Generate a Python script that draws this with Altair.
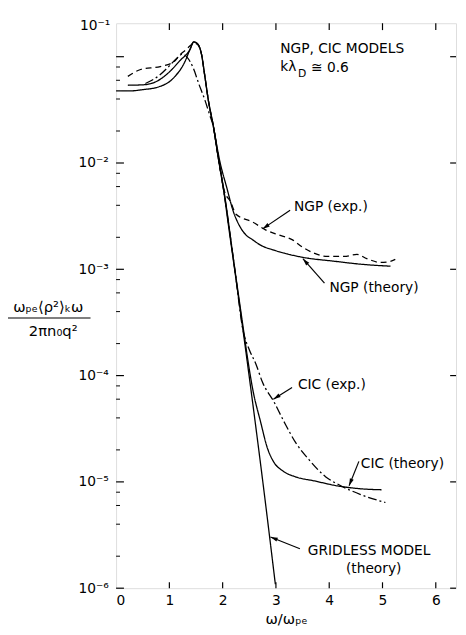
import altair as alt
import pandas as pd

# ---------------- data ----------------
# omega/omega_pe  and  spectrum value
gridless_x = [0.0, 0.277, 0.498, 0.775, 1.089, 1.292, 1.384, 1.458, 1.531, 1.605, 1.661, 1.734,
              1.827, 1.919, 2.030, 2.103, 2.214, 2.380, 2.528, 2.768, 2.989]
gridless_y = [0.0477, 0.0477, 0.0490, 0.0516, 0.0639, 0.0899, 0.1161, 0.1377, 0.1318, 0.1044, 0.0681, 0.0383,
              0.0220, 0.01112, 0.00506, 0.00272, 0.00109, 2.72e-4, 7.58e-5, 8.8e-6, 1.09e-6]

ngp_th_x = [0.221, 0.529, 0.775, 1.015, 1.200, 1.384, 1.458, 1.531, 1.605, 1.661, 1.734, 1.827,
            1.943, 2.080, 2.200, 2.312, 2.435, 2.560, 2.700, 2.990, 3.490, 4.100, 4.650, 5.150]
ngp_th_y = [0.0539, 0.0545, 0.0591, 0.0731, 0.0920, 0.1161, 0.1377, 0.1318, 0.1044, 0.0681, 0.0383, 0.0220,
            0.0106, 0.00580, 0.00350, 0.00259, 0.00211, 0.00190, 0.00170, 0.00150, 0.00130, 0.00119, 0.00111, 0.00107]

cic_th_x = [1.827, 1.919, 2.035, 2.218, 2.390, 2.472, 2.565, 2.712, 2.841, 2.952, 3.137, 3.358,
            3.727, 4.151, 4.594, 4.982]
cic_th_y = [0.0220, 0.0112, 0.00506, 0.00109, 2.72e-4, 1.41e-4, 7.41e-5, 3.67e-5, 2.07e-5, 1.56e-5, 1.26e-5, 1.12e-5,
            1.02e-5, 9.18e-6, 8.61e-6, 8.43e-6]

ngp_exp_x = [0.221, 0.461, 0.830, 1.089, 1.200, 1.300, 1.400, 1.458, 1.531, 1.605, 1.661, 1.734, 1.827,
             1.919, 2.030, 2.150, 2.251, 2.565, 2.804, 3.044, 3.303, 3.487, 3.727, 3.967, 4.280, 4.520,
             4.705, 4.963, 5.148, 5.240]
ngp_exp_y = [0.0653, 0.0758, 0.0808, 0.0900, 0.1044, 0.1150, 0.1280, 0.1350, 0.1300, 0.1044, 0.0681, 0.0383, 0.0220,
             0.0111, 0.0055, 0.0043, 0.00330, 0.00278, 0.00235, 0.00211, 0.00190, 0.00163, 0.00141, 0.00132, 0.00132, 0.00138,
             0.00126, 0.00116, 0.00119, 0.00124]

cic_exp_x = [0.55, 0.80, 1.00, 1.15, 1.25, 1.33, 1.45, 1.55, 1.66, 1.75, 1.83, 1.92, 2.03, 2.22, 2.38,
             2.50, 2.62, 2.75, 2.96, 3.15, 3.38, 3.62, 3.93, 4.20, 4.59, 5.055]
cic_exp_y = [0.0560, 0.0660, 0.0820, 0.0980, 0.1060, 0.0990, 0.0780, 0.0560, 0.0400, 0.0290, 0.0215, 0.0112, 0.0051, 0.00108, 2.7e-4,
             1.75e-4, 1.30e-4, 8.6e-5, 5.7e-5, 3.7e-5, 2.3e-5, 1.62e-5, 1.12e-5, 9.3e-6, 7.6e-6, 6.4e-6]

series_names = ["gridless", "ngp_th", "cic_th", "ngp_exp", "cic_exp"]
series_dash = [[1, 0], [1, 0], [1, 0], [6, 4], [9, 3, 2, 3]]

# axis ticks / labels
x_ticks = [0, 1, 2, 3, 4, 5, 6]
y_major = [1e-6, 1e-5, 1e-4, 1e-3, 1e-2, 1e-1]
y_minor = [m * d for d in [1e-6, 1e-5, 1e-4, 1e-3, 1e-2] for m in (2, 4, 6, 8)]
y_label_vals = [1e-6, 1e-5, 1e-4, 1e-3, 1e-2]
y_label_txt = ["10⁻⁶", "10⁻⁵", "10⁻⁴", "10⁻³", "10⁻²"]
top_label = "10⁻¹"

# annotations
ann_text = ["NGP,  CIC  MODELS", "kλ", "≅ 0.6", "NGP (exp.)", "NGP (theory)", "CIC (exp.)",
            "CIC (theory)", "GRIDLESS MODEL"]
ann_x = [3.08, 3.081, 3.66, 3.339, 4.004, 3.413, 4.594, 3.598]
ann_y = [0.1173, 0.0791, 0.0774, 0.00383, 6.6e-4, 8.07e-5, 1.47e-5, 2.25e-6]

arr_x = [3.266, 3.911, 3.303, 4.557, 3.45]
arr_y = [0.00360, 7.42e-4, 7.74e-5, 1.56e-5, 2.35e-6]
tip_x = [2.749, 3.506, 2.952, 4.373, 2.897]
tip_y = [0.00240, 0.00126, 6.0e-5, 9.18e-6, 3.03e-6]
tip_angle = [235.8, 318.7, 237.7, 201.8, 291.8]

# ---------------- build ----------------
W, H = 346, 575
FONT = "DejaVu Sans"

rows = []
for name, xs, ys in [("gridless", gridless_x, gridless_y), ("ngp_th", ngp_th_x, ngp_th_y),
                     ("cic_th", cic_th_x, cic_th_y), ("ngp_exp", ngp_exp_x, ngp_exp_y),
                     ("cic_exp", cic_exp_x, cic_exp_y)]:
    for i, (a, b) in enumerate(zip(xs, ys)):
        rows.append({"s": name, "x": a, "y": b, "o": i})
df = pd.DataFrame(rows)

xscale = alt.Scale(domain=[0, 6.38], nice=False, zero=False)
yscale = alt.Scale(type="log", domain=[1e-6, 0.2065], nice=False)

label_expr = " : ".join(
    f"abs(datum.value - {v}) < {v * 0.01} ? '{t}'" for v, t in zip(y_label_vals, y_label_txt)
) + " : ''"

xaxis = alt.Axis(values=x_ticks, format="d", tickSize=0, domain=False, grid=False,
                 labelFontSize=14, labelPadding=6, labelColor="black", labelFont=FONT,
                 title="ω/ωₚₑ", titleFontSize=15, titleFontWeight="normal", titleFont=FONT,
                 titleColor="black", titlePadding=4)
yaxis = alt.Axis(values=y_label_vals, labelExpr=label_expr, tickSize=0, domain=False, grid=False,
                 labelFontSize=14, labelPadding=8, labelColor="black", labelFont=FONT, title=None)

lines = alt.Chart(df).mark_line(color="black", strokeWidth=1.3, interpolate="monotone").encode(
    x=alt.X("x:Q", scale=xscale, axis=xaxis),
    y=alt.Y("y:Q", scale=yscale, axis=yaxis),
    detail="s:N",
    order="o:Q",
    strokeDash=alt.StrokeDash("s:N", scale=alt.Scale(domain=series_names, range=series_dash), legend=None),
)

# ticks (inward)
xt = pd.DataFrame({"v": x_ticks[1:]})
ticks_bottom = alt.Chart(xt).mark_rule(color="black", strokeWidth=1.2).encode(
    x=alt.X("v:Q", scale=xscale), y=alt.value(H), y2=alt.value(H - 6))
ticks_top = alt.Chart(xt).mark_rule(color="black", strokeWidth=1.2).encode(
    x=alt.X("v:Q", scale=xscale), y=alt.value(0), y2=alt.value(7))
ymj = pd.DataFrame({"v": y_major})
ymn = pd.DataFrame({"v": y_minor})
ticks_left = alt.Chart(ymj).mark_rule(color="black", strokeWidth=1.2).encode(
    y=alt.Y("v:Q", scale=yscale), x=alt.value(0), x2=alt.value(8))
ticks_left_minor = alt.Chart(ymn).mark_rule(color="black", strokeWidth=1.0).encode(
    y=alt.Y("v:Q", scale=yscale), x=alt.value(0), x2=alt.value(4))
ticks_right = alt.Chart(ymj).mark_rule(color="black", strokeWidth=1.2).encode(
    y=alt.Y("v:Q", scale=yscale), x=alt.value(W), x2=alt.value(W - 6))

# annotations
ann = pd.DataFrame({"t": ann_text, "x": ann_x, "y": ann_y})
ann_marks = alt.Chart(ann).mark_text(align="left", baseline="middle", fontSize=14, font=FONT,
                                     color="black").encode(
    x=alt.X("x:Q", scale=xscale), y=alt.Y("y:Q", scale=yscale), text="t:N")
sub_d = alt.Chart(pd.DataFrame({"t": ["D"], "x": [3.413], "y": [0.0681]})).mark_text(
    align="left", baseline="middle", fontSize=11, font=FONT, color="black").encode(
    x=alt.X("x:Q", scale=xscale), y=alt.Y("y:Q", scale=yscale), text="t:N")
theory2 = alt.Chart(pd.DataFrame({"t": ["(theory)"], "x": [4.834], "y": [1.52e-6]})).mark_text(
    align="center", baseline="middle", fontSize=14, font=FONT, color="black").encode(
    x=alt.X("x:Q", scale=xscale), y=alt.Y("y:Q", scale=yscale), text="t:N")

arr = pd.DataFrame({"x": arr_x, "y": arr_y, "x2": tip_x, "y2": tip_y, "a": tip_angle})
shafts = alt.Chart(arr).mark_rule(color="black", strokeWidth=1.2).encode(
    x=alt.X("x:Q", scale=xscale), y=alt.Y("y:Q", scale=yscale), x2="x2:Q", y2="y2:Q")
heads = alt.Chart(arr).mark_point(shape="M0,0L-0.28,1L0.28,1Z", filled=True, color="black",
                                  opacity=1, size=220).encode(
    x=alt.X("x2:Q", scale=xscale), y=alt.Y("y2:Q", scale=yscale), angle=alt.Angle("a:Q", scale=None))

# y-axis title (fraction) and top label
frac_num = alt.Chart(pd.DataFrame({"t": ["ωₚₑ⟨ρ²⟩ₖω"]})).mark_text(
    align="center", baseline="middle", fontSize=15, font=FONT, color="black").encode(
    x=alt.value(-69), y=alt.value(289), text="t:N")
frac_den = alt.Chart(pd.DataFrame({"t": ["2πn₀q²"]})).mark_text(
    align="center", baseline="middle", fontSize=15, font=FONT, color="black").encode(
    x=alt.value(-64), y=alt.value(313), text="t:N")
frac_bar = alt.Chart(pd.DataFrame({"t": [0]})).mark_rule(color="black", strokeWidth=1.2).encode(
    x=alt.value(-110), x2=alt.value(-26), y=alt.value(300))
top_lab = alt.Chart(pd.DataFrame({"t": [top_label]})).mark_text(
    align="right", baseline="middle", fontSize=14, font=FONT, color="black").encode(
    x=alt.value(-6), y=alt.value(3), text="t:N")

chart = alt.layer(
    lines, ticks_bottom, ticks_top, ticks_left, ticks_left_minor, ticks_right,
    ann_marks, sub_d, theory2, shafts, heads, frac_num, frac_den, frac_bar, top_lab
).properties(
    width=W, height=H,
    padding={"left": 110, "top": 10, "right": 2, "bottom": 34},
    autosize=alt.AutoSizeParams(type="none"),
).configure_view(stroke="black", strokeWidth=1.3).configure(background="white")

chart.save("out.html", embed_options={"renderer": "svg", "actions": False})
